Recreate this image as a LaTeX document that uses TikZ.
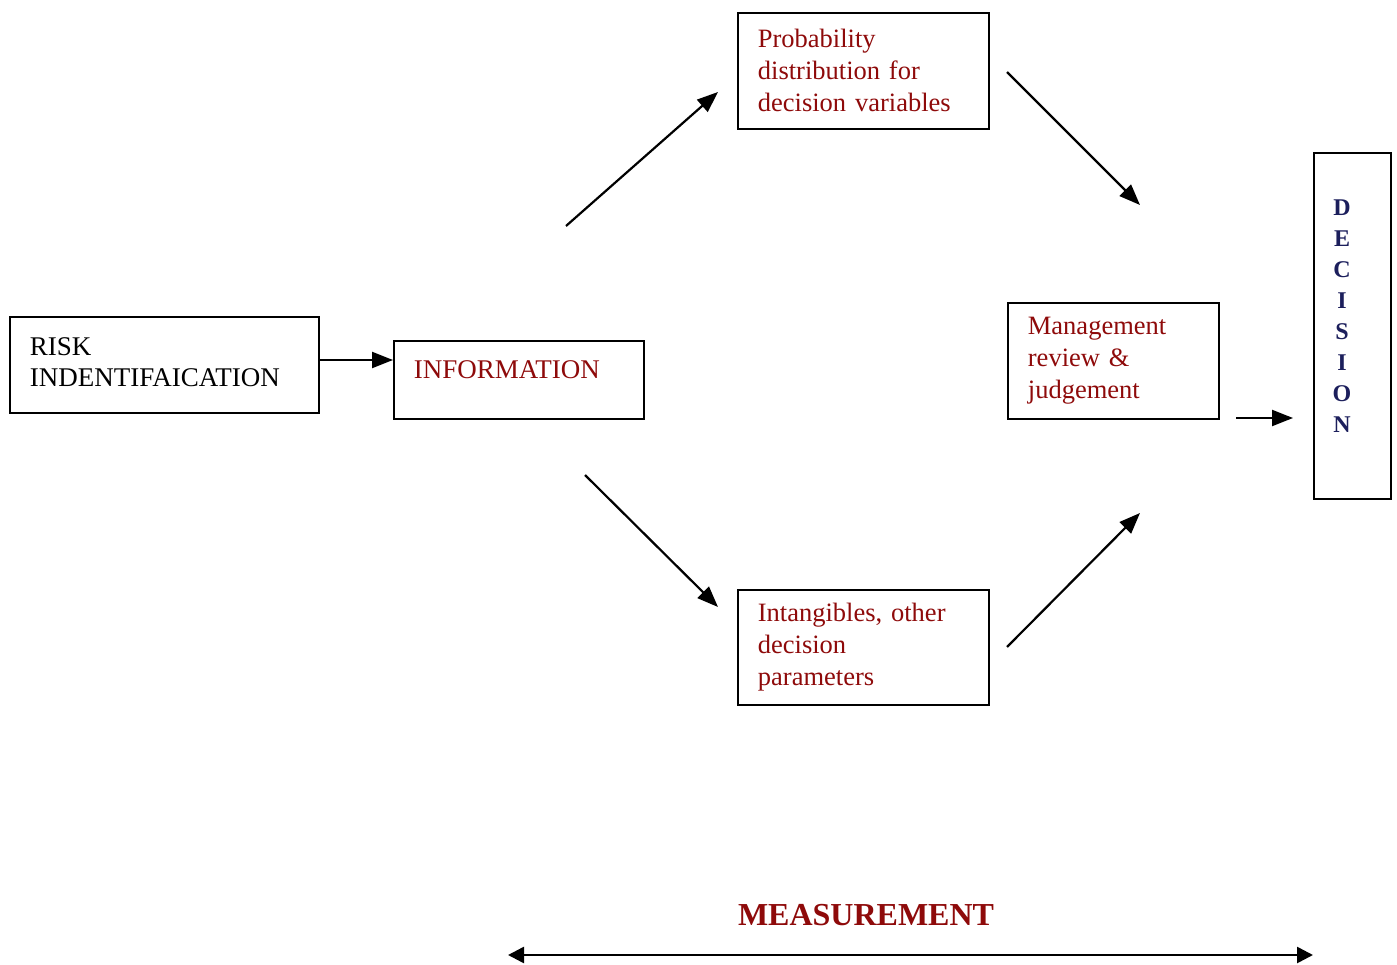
\documentclass[tikz,border=0pt]{standalone}
\usepackage{fontspec}
\setmainfont{Liberation Serif}
\usetikzlibrary{arrows.meta,calc}
\definecolor{darkred}{HTML}{8E0A0A}
\definecolor{navy}{HTML}{1C1F5C}
\begin{document}
\begin{tikzpicture}[x=1pt,y=-1pt,
  box/.style={draw=black,line width=1.8pt,rectangle,anchor=north west,
    inner xsep=20pt,inner ysep=0pt,align=left,font=\fontsize{26.5}{32}\selectfont},
  redtext/.style={text=darkred},
  arr/.style={line width=2.2pt,-{Triangle[length=21pt,width=16pt]}},
  darr/.style={line width=2.6pt,{Triangle[length=16pt,width=16pt]}-{Triangle[length=16pt,width=16pt]}}]
\useasboundingbox (0,0) rectangle (1397,965);

% boxes
\node[box,text width=269pt,minimum height=96pt,font=\fontsize{27}{31}\selectfont] (risk) at (9,316)
  {RISK\\INDENTIFAICATION\rule[-6pt]{0pt}{0pt}};
\node[box,redtext,text width=210pt,minimum height=78pt,font=\fontsize{27}{31}\selectfont] (info) at (393,340)
  {INFORMATION\rule[-20pt]{0pt}{0pt}};
\node[box,redtext,text width=211pt,minimum height=116pt] (prob) at (737,12)
  {Probability\\distribution for\\decision variables};
\node[box,redtext,text width=211pt,minimum height=115pt] (intang) at (737,589)
  {Intangibles, other\\decision\\parameters};
\node[box,redtext,text width=171pt,minimum height=116pt] (mgmt) at (1007,302)
  {Management\\review \&\\judgement};
\node[box,minimum width=77pt,minimum height=346pt,text width=37pt] (dec) at (1313,152) {};
\node[text=navy,align=center,font=\fontsize{24}{31}\selectfont\bfseries] (dtext) at (1342,316)
  {D\\E\\C\\I\\S\\I\\O\\N};

% free arrow ends
\coordinate (a1) at (566,226);  \coordinate (a2) at (718,92);
\coordinate (b1) at (1007,72);  \coordinate (b2) at (1140,205);
\coordinate (c1) at (585,475);  \coordinate (c2) at (718,607);
\coordinate (d1) at (1007,647); \coordinate (d2) at (1140,513);
\coordinate (e1) at (1236,418); \coordinate (e2) at (1293,418);
\coordinate (row) at (0,360);

\draw[arr] (risk.east |- row) -- (info.west |- row);
\draw[arr] (a1) -- (a2);
\draw[arr] (b1) -- (b2);
\draw[arr] (c1) -- (c2);
\draw[arr] (d1) -- (d2);
\draw[arr] (e1) -- (e2);

% measurement scale
\node[text=darkred,font=\fontsize{32}{38}\selectfont\bfseries] (meas) at (866,915) {MEASUREMENT};
\coordinate (m1) at (508,955); \coordinate (m2) at (1313,955);
\draw[darr] (m1) -- (m2);
\end{tikzpicture}
\end{document}
